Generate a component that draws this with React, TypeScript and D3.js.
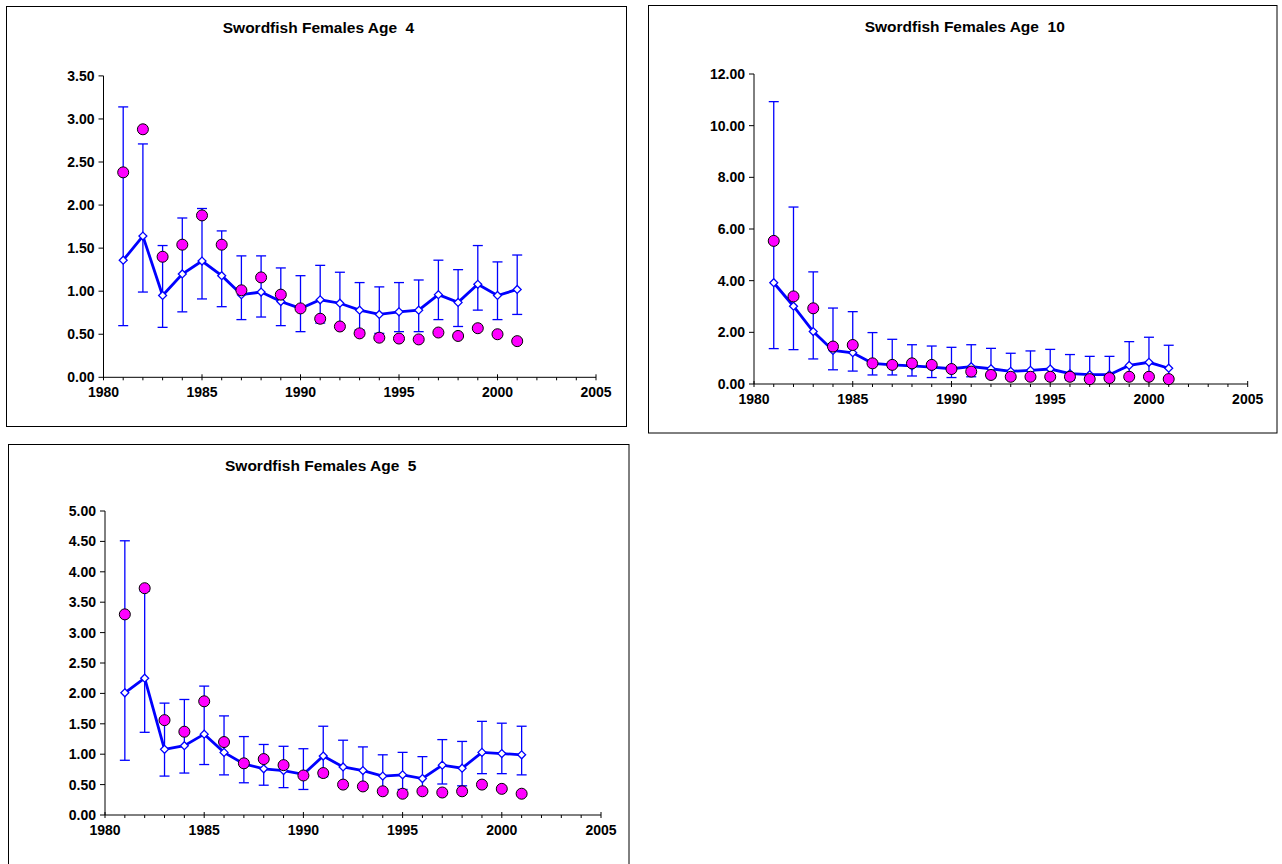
import * as d3 from 'd3'
import { useEffect, useRef } from 'react'

const years = d3.range(1981, 2002)

// Age 4
const age4Est = [1.36, 1.64, 0.95, 1.20, 1.35, 1.18, 0.96, 0.99, 0.88, 0.80, 0.90, 0.86, 0.78, 0.73, 0.76, 0.78, 0.96, 0.87, 1.08, 0.95, 1.02]
const age4Up = [3.14, 2.71, 1.53, 1.85, 1.96, 1.70, 1.41, 1.41, 1.27, 1.18, 1.30, 1.22, 1.10, 1.05, 1.10, 1.13, 1.36, 1.25, 1.53, 1.34, 1.42]
const age4Lo = [0.60, 0.99, 0.58, 0.76, 0.91, 0.82, 0.67, 0.70, 0.60, 0.53, 0.63, 0.60, 0.55, 0.51, 0.53, 0.53, 0.67, 0.59, 0.78, 0.67, 0.73]
const age4Obs = [2.38, 2.88, 1.40, 1.54, 1.88, 1.54, 1.01, 1.16, 0.96, 0.80, 0.68, 0.59, 0.51, 0.46, 0.45, 0.44, 0.52, 0.48, 0.57, 0.50, 0.42]

// Age 10
const age10Est = [3.92, 3.01, 2.03, 1.30, 1.21, 0.80, 0.74, 0.70, 0.65, 0.59, 0.67, 0.59, 0.49, 0.53, 0.58, 0.40, 0.36, 0.36, 0.72, 0.84, 0.61]
const age10Up = [10.93, 6.85, 4.34, 2.94, 2.80, 1.99, 1.73, 1.52, 1.47, 1.42, 1.52, 1.38, 1.19, 1.28, 1.34, 1.14, 1.07, 1.07, 1.64, 1.81, 1.50]
const age10Lo = [1.37, 1.33, 0.97, 0.55, 0.50, 0.35, 0.35, 0.31, 0.25, 0.25, 0.28, 0.24, 0.19, 0.21, 0.23, 0.15, 0.13, 0.13, 0.30, 0.35, 0.24]
const age10Obs = [5.54, 3.39, 2.93, 1.45, 1.51, 0.80, 0.74, 0.80, 0.74, 0.58, 0.48, 0.35, 0.28, 0.28, 0.28, 0.28, 0.19, 0.23, 0.28, 0.28, 0.19]

// Age 5
const age5Est = [2.01, 2.25, 1.08, 1.14, 1.33, 1.03, 0.84, 0.76, 0.73, 0.67, 0.97, 0.79, 0.73, 0.64, 0.66, 0.60, 0.82, 0.77, 1.03, 1.01, 0.99]
const age5Up = [4.51, 3.68, 1.84, 1.90, 2.12, 1.63, 1.29, 1.16, 1.13, 1.09, 1.46, 1.23, 1.12, 0.99, 1.03, 0.96, 1.24, 1.21, 1.54, 1.51, 1.46]
const age5Lo = [0.90, 1.36, 0.64, 0.69, 0.83, 0.66, 0.53, 0.49, 0.45, 0.42, 0.63, 0.52, 0.47, 0.41, 0.42, 0.38, 0.51, 0.48, 0.68, 0.68, 0.66]
const age5Obs = [3.30, 3.73, 1.56, 1.37, 1.87, 1.20, 0.85, 0.92, 0.82, 0.65, 0.69, 0.50, 0.47, 0.39, 0.35, 0.39, 0.37, 0.39, 0.50, 0.43, 0.35]

const xTicks = [1980, 1985, 1990, 1995, 2000, 2005]

interface IPanelProps {
  title: string
  est: number[]
  up: number[]
  lo: number[]
  obs: number[]
  yMax: number
  yStep: number
  box: { x: number; y: number; w: number; h: number }
  plot: { l: number; r: number; t: number; b: number }
}

const FONT = 'Liberation Sans, Arial, sans-serif'

function Panel(props: IPanelProps) {
  const { title, est, up, lo, obs, yMax, yStep, box, plot } = props
  const gRef = useRef(null)

  const update = () => {
    const root = d3.select(gRef.current)
    root.selectAll('*').remove()
    const g = root.append('g').attr('transform', `translate(${box.x}, ${box.y})`)

    g.append('rect')
      .attr('x', 0).attr('y', 0)
      .attr('width', box.w).attr('height', box.h)
      .attr('fill', '#fff').attr('stroke', '#000').attr('stroke-width', 1)

    g.append('text')
      .attr('x', box.w / 2 + 2).attr('y', 26)
      .attr('text-anchor', 'middle')
      .style('font-family', FONT)
      .style('font-weight', 'bold')
      .style('font-size', '15.5px')
      .style('white-space', 'pre')
      .text(title)

    const x = d3.scaleLinear().domain([1980, 2005]).range([plot.l, plot.r])
    const y = d3.scaleLinear().domain([0, yMax]).range([plot.b, plot.t])

    // y axis
    const yTicks = d3.range(0, yMax + yStep / 2, yStep)
    g.append('line')
      .attr('x1', plot.l).attr('x2', plot.l)
      .attr('y1', plot.t).attr('y2', plot.b)
      .attr('stroke', '#000')
    yTicks.forEach(v => {
      g.append('line')
        .attr('x1', plot.l - 5).attr('x2', plot.l)
        .attr('y1', y(v)).attr('y2', y(v))
        .attr('stroke', '#000')
      g.append('text')
        .attr('x', plot.l - 9).attr('y', y(v) + 5)
        .attr('text-anchor', 'end')
        .style('font-family', FONT)
        .style('font-weight', 'bold')
        .style('font-size', '14px')
        .text(v.toFixed(2))
    })

    // x axis
    g.append('line')
      .attr('x1', plot.l).attr('x2', plot.r)
      .attr('y1', plot.b).attr('y2', plot.b)
      .attr('stroke', '#000')
    d3.range(1980, 2006).forEach(yr => {
      const major = yr % 5 === 0
      g.append('line')
        .attr('x1', x(yr)).attr('x2', x(yr))
        .attr('y1', major ? plot.b - 3 : plot.b).attr('y2', plot.b + 3)
        .attr('stroke', '#000')
    })
    xTicks.forEach(yr => {
      g.append('text')
        .attr('x', x(yr)).attr('y', plot.b + 20)
        .attr('text-anchor', 'middle')
        .style('font-family', FONT)
        .style('font-weight', 'bold')
        .style('font-size', '14px')
        .text(yr)
    })

    // error bars
    const blue = '#0000ff'
    years.forEach((yr, i) => {
      const cx = x(yr)
      g.append('line')
        .attr('x1', cx).attr('x2', cx)
        .attr('y1', y(lo[i])).attr('y2', y(up[i]))
        .attr('stroke', blue).attr('stroke-width', 1.3)
      ;[lo[i], up[i]].forEach(v => {
        g.append('line')
          .attr('x1', cx - 5).attr('x2', cx + 5)
          .attr('y1', y(v)).attr('y2', y(v))
          .attr('stroke', blue).attr('stroke-width', 1.3)
      })
    })

    const line = d3.line<number>()
      .x((_, i) => x(years[i]))
      .y(d => y(d))
    g.append('path')
      .attr('d', line(est))
      .attr('fill', 'none')
      .attr('stroke', blue)
      .attr('stroke-width', 2.8)

    const diamond = d3.symbol().type(d3.symbolDiamond2).size(40)
    est.forEach((v, i) => {
      g.append('path')
        .attr('d', diamond())
        .attr('transform', `translate(${x(years[i])}, ${y(v)})`)
        .attr('fill', '#fff')
        .attr('stroke', blue)
        .attr('stroke-width', 1.3)
    })

    obs.forEach((v, i) => {
      g.append('circle')
        .attr('cx', x(years[i])).attr('cy', y(v))
        .attr('r', 5.5)
        .attr('fill', '#ff00ff')
        .attr('stroke', '#000')
        .attr('stroke-width', 1)
    })
  }

  useEffect(() => {
    update()
  })

  return <g ref={gRef}></g>
}

export default function App() {
  return (
    <div style={{ position: 'absolute', left: 0, top: 0 }}>
      <svg width={1282} height={864} style={{ display: 'block', background: '#fff' }}>
        <Panel
          title="Swordfish Females Age  4"
          est={age4Est} up={age4Up} lo={age4Lo} obs={age4Obs}
          yMax={3.5} yStep={0.5}
          box={{ x: 6.5, y: 6.5, w: 620, h: 420 }}
          plot={{ l: 97, r: 589.5, t: 69.4, b: 370.8 }}
        />
        <Panel
          title="Swordfish Females Age  10"
          est={age10Est} up={age10Up} lo={age10Lo} obs={age10Obs}
          yMax={12} yStep={2}
          box={{ x: 648.5, y: 5.5, w: 628.5, h: 427.5 }}
          plot={{ l: 105.5, r: 599.2, t: 68.5, b: 378.5 }}
        />
        <Panel
          title="Swordfish Females Age  5"
          est={age5Est} up={age5Up} lo={age5Lo} obs={age5Obs}
          yMax={5} yStep={0.5}
          box={{ x: 8.5, y: 444.5, w: 620.5, h: 440 }}
          plot={{ l: 96.5, r: 592.5, t: 66.5, b: 370.5 }}
        />
      </svg>
    </div>
  )
}
